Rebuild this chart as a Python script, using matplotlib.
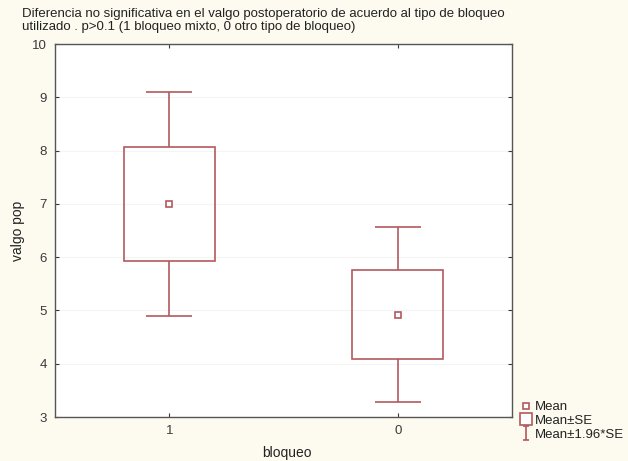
import numpy as np
import matplotlib.pyplot as plt
from matplotlib.lines import Line2D
from matplotlib.path import Path
from matplotlib.patches import Rectangle

plt.rcParams['font.family'] = ['Liberation Sans', 'DejaVu Sans']

# Valgo postoperatorio por tipo de bloqueo
groups = ['1', '0']
means = [7.00, 4.92]
se = [1.07, 0.84]
ci_factor = 1.96

color = '#b35a5c'
bg = '#fdfbf0'
W, H = 628, 461

fig = plt.figure(figsize=(W / 100, H / 100), dpi=100, facecolor=bg)
ax = fig.add_axes([55/W, 1 - 417/H, 457/W, 373/H])
ax.set_facecolor('white')

pos = np.arange(len(groups))
box_w = 0.4
cap_w = 0.2
for x, m, s in zip(pos, means, se):
    lo, hi = m - ci_factor * s, m + ci_factor * s
    ax.vlines(x, lo, m - s, color=color, lw=1.2, zorder=3)
    ax.vlines(x, m + s, hi, color=color, lw=1.2, zorder=3)
    ax.hlines([lo, hi], x - cap_w / 2, x + cap_w / 2, color=color, lw=1.2, zorder=3)
    ax.add_patch(Rectangle((x - box_w / 2, m - s), box_w, 2 * s,
                           fill=False, ec=color, lw=1.2, zorder=3))
    ax.plot(x, m, marker='s', ms=4, mfc='white', mec=color, mew=1.2, ls='none', zorder=4)

ax.set_xlim(-0.5, 1.5)
ax.set_ylim(3, 10)
ax.set_xticks(pos)
ax.set_xticklabels(groups)
ax.set_yticks(range(3, 11))
ax.tick_params(direction='in', length=3, labelsize=9.5, colors='#3a3a3a',
               top=True, right=True, pad=6)
ax.set_axisbelow(True)
ax.grid(axis='y', color='#f4f4f4', lw=0.8)
for sp in ax.spines.values():
    sp.set_color('#555555')
    sp.set_linewidth(1.0)

# axis titles placed in figure pixels
fig.text(287/W, 1 - 453/H, 'bloqueo', fontsize=10, color='#222222',
         ha='center', va='center')
fig.text(18/W, 1 - 231/H, 'valgo pop', fontsize=10, color='#222222',
         ha='center', va='center', rotation=90)

fig.text(22/W, 1 - 8/H,
         'Diferencia no significativa en el valgo postoperatorio de acuerdo al tipo de bloqueo\n'
         'utilizado . p>0.1 (1 bloqueo mixto, 0 otro tipo de bloqueo)',
         fontsize=9.5, color='#222222', va='top', ha='left', linespacing=1.08)

# I-beam marker for the 1.96*SE legend entry
ibeam = Path([(-0.5, 1), (0.5, 1), (0, 1), (0, -1), (-0.5, -1), (0.5, -1)],
             [Path.MOVETO, Path.LINETO, Path.MOVETO, Path.LINETO, Path.MOVETO, Path.LINETO])
handles = [
    Line2D([], [], marker='s', ms=4, mfc='white', mec=color, mew=1.2, ls='none'),
    Line2D([], [], marker='s', ms=9, mfc='white', mec=color, mew=1.2, ls='none'),
    Line2D([], [], marker=ibeam, ms=10, mfc='none', mec=color, mew=1.2, ls='none'),
]
fig.legend(handles, ['Mean', 'Mean±SE', 'Mean±1.96*SE'],
           loc='upper left', bbox_to_anchor=(511/W, 1 - 392/H),
           frameon=False, fontsize=9.5, handlelength=0.8, handletextpad=0.3,
           labelspacing=0.1, borderpad=0.2, labelcolor='#222222')

fig.savefig('out.png', dpi=100, facecolor=bg)
